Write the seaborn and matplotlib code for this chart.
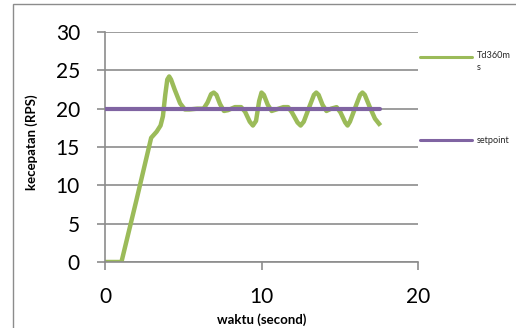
import matplotlib
matplotlib.use("Agg")
import matplotlib.pyplot as plt
import seaborn as sns
import pandas as pd
from matplotlib.patches import Rectangle
from matplotlib.lines import Line2D

# ---- data ----
time_td = [0, 1.05, 2.0, 2.95, 3.3, 3.55, 3.7, 3.85, 3.98, 4.1, 4.22, 4.45, 4.8, 5.1, 5.4,
           5.9, 6.3, 6.55, 6.78, 6.95, 7.12, 7.35, 7.6, 7.85, 8.3, 8.7, 8.95, 9.25, 9.45,
           9.65, 9.85, 10.0, 10.15, 10.4, 10.65, 10.95, 11.4, 11.7, 11.95, 12.3, 12.5,
           12.7, 13.05, 13.35, 13.5, 13.65, 13.9, 14.15, 14.45, 14.8, 15.05, 15.35, 15.5,
           15.65, 16.0, 16.3, 16.45, 16.6, 16.9, 17.25, 17.6]
speed_td = [0, 0, 8.0, 16.2, 17.0, 17.8, 19.0, 21.8, 23.8, 24.2, 23.8, 22.5, 20.7, 19.9, 19.9,
            20.0, 20.0, 20.8, 21.9, 22.1, 21.8, 20.6, 19.7, 19.8, 20.2, 20.2, 19.6, 18.3, 17.8,
            18.4, 21.0, 22.1, 21.8, 20.5, 19.7, 19.9, 20.2, 20.2, 19.5, 18.2, 17.8,
            18.3, 20.2, 21.8, 22.1, 21.8, 20.5, 19.7, 20.0, 20.2, 19.5, 18.2, 17.8,
            18.3, 20.2, 21.8, 22.1, 21.8, 20.3, 18.7, 17.8]
time_sp = [0, 17.6]
speed_sp = [20, 20]
series_names = ["Td360m\ns", "setpoint"]
x_ticks = [0, 10, 20]
y_ticks = [0, 5, 10, 15, 20, 25, 30]
x_label = "waktu (second)"
y_label = "kecepatan (RPS)"

green = "#9BBB59"
purple = "#8064A2"
gray = "#8C8C8C"

sns.set_theme(style="white")
plt.rcParams['font.family'] = ['Lato', 'DejaVu Sans']

fig = plt.figure(figsize=(5.16, 3.28), dpi=100)
ax = fig.add_axes([105/516, (328-262)/328, 313/516, 230/328])

df_td = pd.DataFrame({"t": time_td, "v": speed_td})
df_sp = pd.DataFrame({"t": time_sp, "v": speed_sp})

sns.lineplot(data=df_sp, x="t", y="v", ax=ax, color=purple, linewidth=3.0, sort=False,
             zorder=3, solid_capstyle="round")
sns.lineplot(data=df_td, x="t", y="v", ax=ax, color=green, linewidth=3.2, sort=False,
             zorder=2, solid_joinstyle="round", solid_capstyle="butt")

ax.set_xlim(0, 20)
ax.set_ylim(0, 30)
ax.set_xticks(x_ticks)
ax.set_yticks(y_ticks)
ax.set_xticklabels([str(v) for v in x_ticks])
ax.set_yticklabels([str(v) for v in y_ticks])
ax.grid(axis="y", color=gray, linewidth=1.2)
ax.grid(axis="x", visible=False)
ax.set_axisbelow(True)

for s in ["top", "right"]:
    ax.spines[s].set_visible(False)
for s in ["left", "bottom"]:
    ax.spines[s].set_color(gray)
    ax.spines[s].set_linewidth(1.2)

ax.tick_params(axis="both", which="major", direction="out", length=5.5, width=1.2,
               color=gray, labelsize=15, labelcolor="black")
ax.tick_params(axis="y", pad=12.5)
ax.tick_params(axis="x", pad=12.5)
ax.tick_params(left=True, bottom=True)

ax.set_xlabel(x_label, fontsize=9.5, fontweight="bold", color="black")
ax.set_ylabel(y_label, fontsize=9.5, fontweight="bold", color="black")
ax.xaxis.set_label_coords(0.5, -0.225)
ax.yaxis.set_label_coords(-0.215, 0.52)

# legend (outside right)
def fx(px):
    return px / 516
def fy(py):
    return (328 - py) / 328

fig.add_artist(Line2D([fx(420), fx(472)], [fy(57), fy(57)], color=green, linewidth=2.2,
                      transform=fig.transFigure))
fig.text(fx(477), fy(51), series_names[0], fontsize=6.6, va="top", ha="left",
         transform=fig.transFigure, linespacing=1.4)
fig.add_artist(Line2D([fx(420), fx(472)], [fy(140), fy(140)], color=purple, linewidth=2.2,
                      transform=fig.transFigure))
fig.text(fx(477), fy(140), series_names[1], fontsize=6.6, va="center", ha="left",
         transform=fig.transFigure)

# chart border
fig.add_artist(Rectangle((13/516, -0.02), 1.0, (328-4)/328 + 0.02, fill=False,
                         edgecolor=gray, linewidth=1.0, transform=fig.transFigure))

fig.savefig("out.png", dpi=100)
